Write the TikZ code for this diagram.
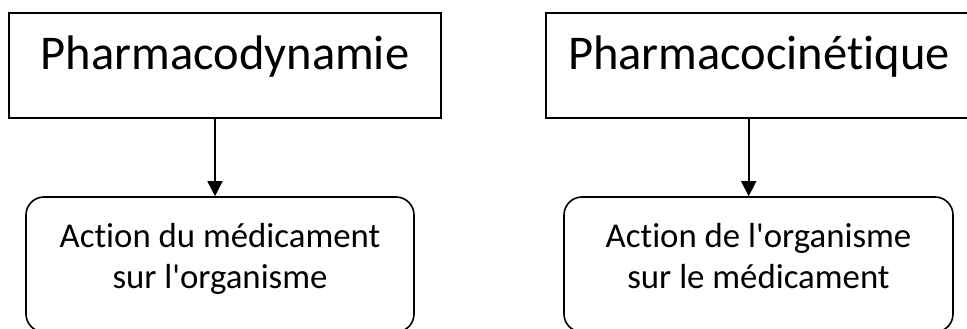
\documentclass[tikz,border=0pt]{standalone}
\usepackage{fontspec}
\setmainfont{Carlito}[Ligatures={NoCommon}]
\usetikzlibrary{arrows.meta,calc}

\tikzset{
  topbox/.style={draw, line width=1.6pt, inner ysep=0pt,
    minimum height=105pt, text height=57pt, text depth=48pt,
    font=\fontsize{48.5}{58}\selectfont},
  bubble/.style={draw, line width=1.6pt, rounded corners=18pt,
    minimum height=135pt, align=center, text depth=18pt,
    font=\fontsize{34.8}{41}\selectfont},
  link/.style={line width=1.6pt, -{Triangle[width=15pt,length=15pt]}}
}

\begin{document}
\begin{tikzpicture}[x=1pt,y=1pt]
  \useasboundingbox (0,0) rectangle (967,-329);

  % heading boxes
  \node[topbox, minimum width=432pt, inner xsep=0pt] (pd) at (225,-65.5) {Pharmacodynamie};
  \node[topbox, text width=400pt, align=left, inner xsep=22pt] (pc) at (768,-65.5) {Pharmacocinétique};

  % description boxes
  \node[bubble, minimum width=388pt] (ad) at (220,-264.5) {Action du médicament\\sur l\textquotesingle organisme};
  \node[bubble, minimum width=389pt] (ao) at (758.5,-264.5) {Action de l\textquotesingle organisme\\sur le médicament};

  % connectors
  \draw[link] ([xshift=-10pt]pd.south) -- ([xshift=-5pt]ad.north);
  \draw[link] ($(pc.south)+(-19.3,0)$) -- ([xshift=-9.8pt]ao.north);
\end{tikzpicture}
\end{document}
